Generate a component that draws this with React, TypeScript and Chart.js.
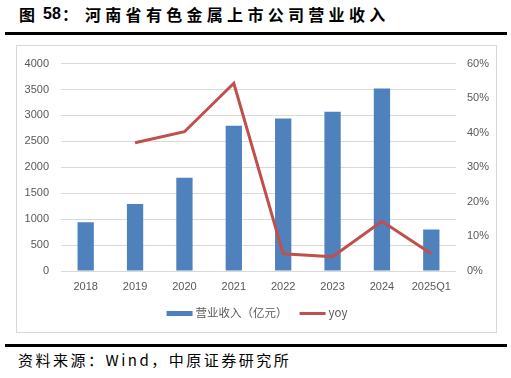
import React, { useEffect, useRef } from "react";
import { Chart, registerables } from "chart.js";

Chart.register(...registerables);

const categories = ["2018", "2019", "2020", "2021", "2022", "2023", "2024", "2025Q1"];
const revenue = [940, 1290, 1800, 2800, 2940, 3070, 3520, 800];
const yoy = [null, 37.1, 40.3, 54.3, 5.0, 4.1, 14.4, 5.0];
const revenueLabel = "营业收入（亿元）";
const yoyLabel = "yoy";
const leftMax = 4000;
const leftStep = 500;
const rightMax = 60;
const rightStep = 10;

const BLUE = "#4F81BD";
const RED = "#C0504D";
const GRID = "#D9D9D9";
const TEXT = "#595959";
const CJK = "'Noto Sans CJK SC', 'Liberation Sans', sans-serif";
const LATIN = "'Liberation Sans', Arial, sans-serif";

const legendPlugin = {
  id: "customLegend",
  afterDraw(chart: any) {
    const { ctx, chartArea, width } = chart;
    const items = chart.data.datasets.map((ds: any, i: number) => ({
      text: ds.label,
      color: i === 0 ? BLUE : RED,
      h: i === 0 ? 5 : 3,
    }));
    const boxW = 26;
    const gap = 3;
    const itemGap = 12;
    ctx.save();
    ctx.font = `11.5px ${CJK}`;
    const widths = items.map((it: any) => ctx.measureText(it.text).width);
    let total = 0;
    items.forEach((_: any, i: number) => {
      total += boxW + gap + widths[i];
    });
    total += itemGap * (items.length - 1);
    let x = (width - total) / 2;
    const y = chartArea.bottom + 42;
    ctx.textBaseline = "middle";
    ctx.textAlign = "left";
    items.forEach((it: any, i: number) => {
      ctx.fillStyle = it.color;
      ctx.fillRect(x, Math.round(y - it.h / 2), boxW, it.h);
      ctx.fillStyle = TEXT;
      ctx.fillText(it.text, x + boxW + gap, y);
      x += boxW + gap + widths[i] + itemGap;
    });
    ctx.restore();
  },
};

export default function App() {
  const ref = useRef<HTMLCanvasElement | null>(null);

  useEffect(() => {
    if (!ref.current) return;
    const chart = new Chart(ref.current, {
      type: "bar",
      data: {
        labels: categories,
        datasets: [
          {
            type: "bar",
            label: revenueLabel,
            data: revenue,
            backgroundColor: BLUE,
            borderWidth: 0,
            yAxisID: "y",
            order: 2,
            categoryPercentage: 1,
            barPercentage: 0.33,
          } as any,
          {
            type: "line",
            label: yoyLabel,
            data: yoy,
            borderColor: RED,
            backgroundColor: RED,
            borderWidth: 3,
            pointRadius: 0,
            tension: 0,
            spanGaps: false,
            yAxisID: "y1",
            order: 1,
          } as any,
        ],
      },
      plugins: [legendPlugin],
      options: {
        responsive: false,
        animation: false,
        devicePixelRatio: 1,
        layout: { padding: { top: 15, bottom: 37, left: 0, right: 0 } },
        plugins: {
          tooltip: { enabled: false },
          title: { display: false },
          legend: { display: false },
        },
        scales: {
          x: {
            grid: { display: false, drawTicks: false },
            border: { display: false },
            ticks: {
              color: TEXT,
              padding: 9,
              font: { family: LATIN, size: 11 },
            },
            afterFit: (s: any) => {
              s.height = 26;
            },
          },
          y: {
            position: "left",
            min: 0,
            max: leftMax,
            grid: { color: GRID, lineWidth: 1, drawTicks: false },
            border: { display: false },
            ticks: {
              stepSize: leftStep,
              color: TEXT,
              padding: 12,
              font: { family: LATIN, size: 11 },
              callback: (v: any) => String(v),
            },
            afterFit: (s: any) => {
              s.width = 45;
            },
          },
          y1: {
            position: "right",
            min: 0,
            max: rightMax,
            grid: { display: false, drawTicks: false },
            border: { display: false },
            ticks: {
              stepSize: rightStep,
              color: TEXT,
              padding: 11,
              font: { family: LATIN, size: 11 },
              callback: (v: any) => `${v}%`,
            },
            afterFit: (s: any) => {
              s.width = 42;
            },
          },
        },
      } as any,
    });
    return () => chart.destroy();
  }, []);

  return (
    <div
      style={{
        position: "absolute",
        left: 0,
        top: 0,
        width: 511,
        height: 378,
        background: "#fff",
        overflow: "hidden",
      }}
    >
      <div style={{ position: "absolute", left: 19, top: 5, fontFamily: CJK, fontWeight: 700, fontSize: 16, lineHeight: "18px", color: "#000" }}>图</div>
      <div style={{ position: "absolute", left: 43, top: 5, fontFamily: LATIN, fontWeight: 700, fontSize: 16, lineHeight: "18px", color: "#000" }}>58</div>
      <div style={{ position: "absolute", left: 62, top: 5, fontFamily: CJK, fontWeight: 700, fontSize: 16, lineHeight: "18px", color: "#000" }}>：</div>
      <div style={{ position: "absolute", left: 85, top: 5, fontFamily: CJK, fontWeight: 700, fontSize: 16, lineHeight: "18px", letterSpacing: "4.3px", color: "#000", whiteSpace: "nowrap" }}>
        河南省有色金属上市公司营业收入
      </div>
      <div style={{ position: "absolute", left: 5, top: 32, width: 502, height: 3, background: "#000" }} />
      <canvas
        ref={ref}
        width={482}
        height={289}
        style={{ position: "absolute", left: 16, top: 45, width: 482, height: 289 }}
      />
      <div
        style={{
          position: "absolute",
          left: 16,
          top: 45,
          width: 479,
          height: 286,
          border: `1px solid ${GRID}`,
          pointerEvents: "none",
        }}
      />
      <div style={{ position: "absolute", left: 5, top: 344, width: 502, height: 3, background: "#000" }} />
      <div
        style={{
          position: "absolute",
          left: 18,
          top: 351,
          fontFamily: CJK,
          fontSize: 15,
          lineHeight: "18px",
          letterSpacing: "2.5px",
          color: "#000",
          whiteSpace: "nowrap",
        }}
      >
        资料来源：Wind，中原证券研究所
      </div>
    </div>
  );
}
